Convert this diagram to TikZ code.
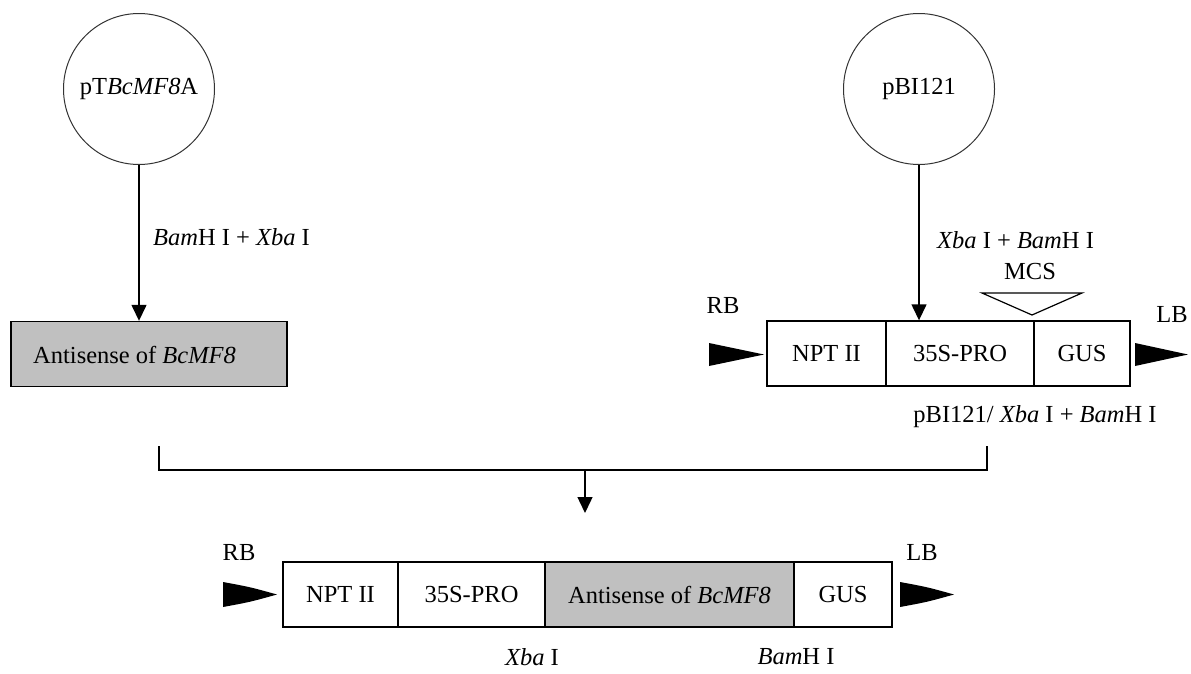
\documentclass[tikz,border=0pt]{standalone}
\usepackage{fontspec}
\setmainfont{Liberation Serif}
\usetikzlibrary{arrows.meta}
\definecolor{boxgrey}{HTML}{C0C0C0}
\tikzset{
  lab/.style={font=\fontsize{24.5}{29}\selectfont, inner sep=0pt},
  seg/.style={draw, line width=1.4pt, minimum height=65pt, inner sep=0pt, font=\fontsize{24.5}{29}\selectfont},
  gseg/.style={seg, fill=boxgrey},
  plasmid/.style={circle, draw=black!80, line width=1pt, minimum size=151pt, inner sep=0pt, font=\fontsize{24.5}{29}\selectfont},
  arr/.style={-{Triangle[width=15pt,length=16pt]}, line width=1.4pt},
  link/.style={line width=1.4pt},
  bwedge/.style={fill=black},
  mcstri/.style={draw, line width=1.2pt, line join=miter},
}
\begin{document}
\begin{tikzpicture}[x=1pt,y=-1pt]
\useasboundingbox (0,0) rectangle (1191,673);

% ---- left plasmid ----
\node[plasmid] (c1) at (139,89) {pT\textit{BcMF8}A};
\node[gseg, minimum width=276pt] (a1) at (149,354) {};
\node[lab, anchor=west] (a1t) at (33,355) {Antisense of \textit{BcMF8}};
\draw[arr] (c1.south) -- (c1.south |- a1.north);
\node[lab, anchor=west] (l1) at (153,237) {\textit{Bam}H I + \textit{Xba} I};

% ---- right plasmid ----
\node[plasmid] (c2) at (919,89) {pBI121};
\node[seg, minimum width=119pt] (b1) at (826.5,353.5) {NPT II};
\node[seg, minimum width=148pt] (b2) at (960,353.5) {35S-PRO};
\node[seg, minimum width=96pt] (b3) at (1082,353.5) {GUS};
\draw[arr] (c2.south) -- (c2.south |- b2.north);
\node[lab, anchor=west] (l2) at (937,240) {\textit{Xba} I + \textit{Bam}H I};
\node[lab] (mcs) at (1030,272) {MCS};
\draw[mcstri] (982,293) -- (1082,293) -- (1032,315) -- cycle;
\node[lab] (rb1) at (723,306) {RB};
\node[lab] (lb1) at (1172,315) {LB};
\fill[bwedge] (709,343) .. controls (737,348) .. (764,354.5) .. controls (737,361) .. (709,366) -- cycle;
\fill[bwedge] (1135,343) .. controls (1162,348) .. (1188,354.5) .. controls (1162,361) .. (1135,366) -- cycle;
\node[lab] (l3) at (1035,417) {pBI121/ \textit{Xba} I + \textit{Bam}H I};

% ---- bracket ----
\coordinate (bl) at (159,446);
\coordinate (br) at (987,446);
\coordinate (bm) at (585,470);
\coordinate (bt) at (585,513);
\draw[link] (bl) |- (br |- bm) -- (br);
\draw[arr] (bm) -- (bt);

% ---- recombinant construct ----
\node[seg, minimum width=115pt] (d1) at (340.5,594.5) {NPT II};
\node[seg, minimum width=147pt] (d2) at (471.5,594.5) {35S-PRO};
\node[gseg, minimum width=249pt] (d3) at (669.5,594.5) {Antisense of \textit{BcMF8}};
\node[seg, minimum width=98pt] (d4) at (843,594.5) {GUS};
\node[lab] (rb2) at (239,553) {RB};
\node[lab] (lb2) at (922,553) {LB};
\fill[bwedge] (223,582) .. controls (250,587) .. (277,594.5) .. controls (250,602) .. (223,607) -- cycle;
\fill[bwedge] (900,582) .. controls (927,587) .. (954,594.5) .. controls (927,602) .. (900,607) -- cycle;
\node[lab] (x1) at (532,657) {\textit{Xba} I};
\node[lab] (x2) at (796,657) {\textit{Bam}H I};
\end{tikzpicture}
\end{document}
